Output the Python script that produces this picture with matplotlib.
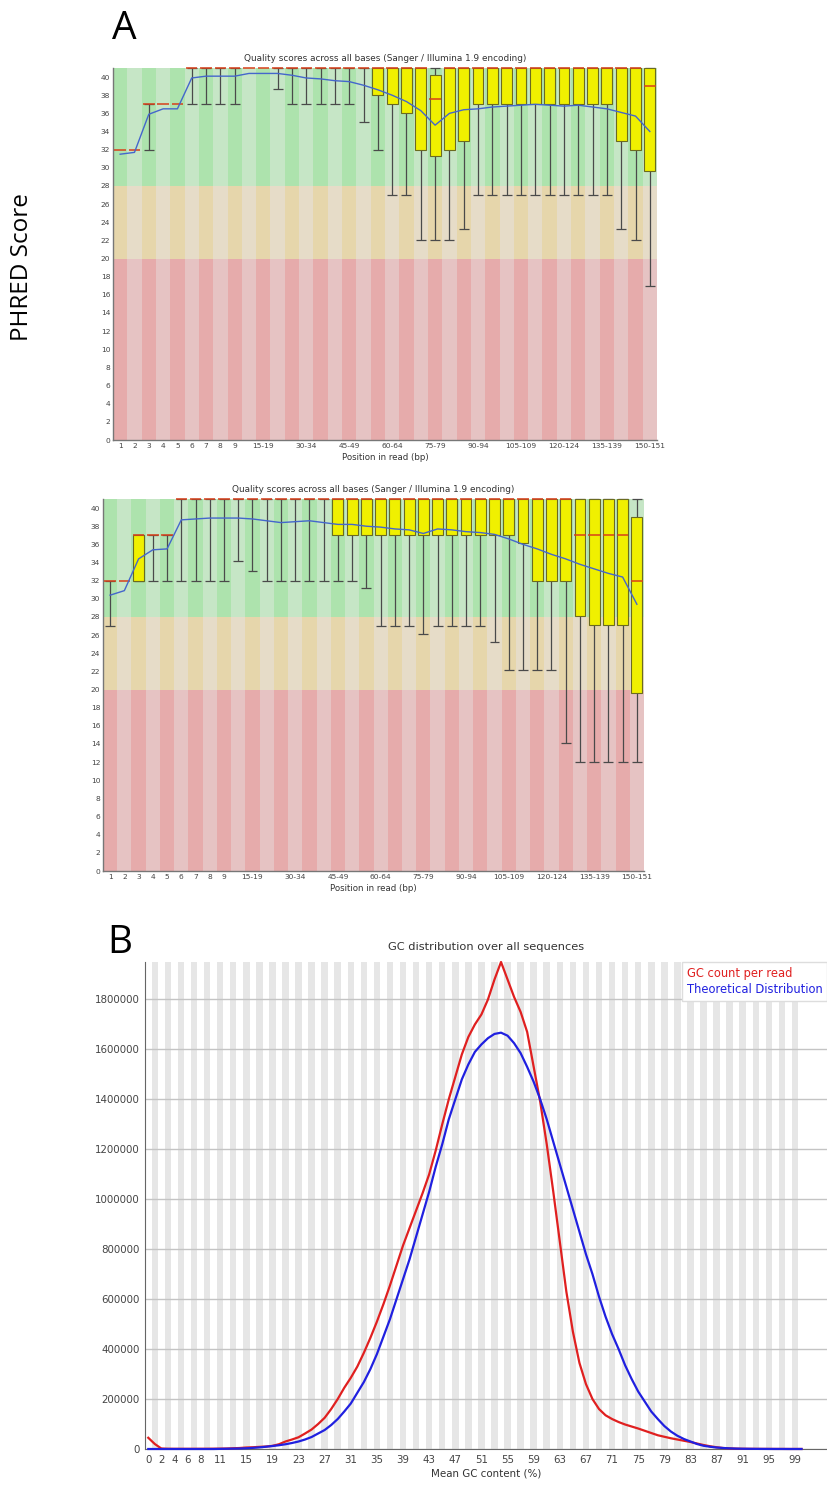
import matplotlib
matplotlib.use("Agg")
import matplotlib.pyplot as plt
from matplotlib.patches import Rectangle

W, H = 827, 1486

# base positions as grouped by FastQC
positions = ['1', '2', '3', '4', '5', '6', '7', '8', '9',
             '10-14', '15-19', '20-24', '25-29', '30-34', '35-39', '40-44',
             '45-49', '50-54', '55-59', '60-64', '65-69', '70-74', '75-79',
             '80-84', '85-89', '90-94', '95-99', '100-104', '105-109',
             '110-114', '115-119', '120-124', '125-129', '130-134',
             '135-139', '140-144', '145-149', '150-151']
shown_positions = ['1', '2', '3', '4', '5', '6', '7', '8', '9', '15-19',
                   '30-34', '45-49', '60-64', '75-79', '90-94', '105-109',
                   '120-124', '135-139', '150-151']

# read 1 per-position quality
r1_mean = [31.5, 31.7, 35.9, 36.5, 36.5, 39.9, 40.1, 40.1, 40.1, 40.4,
           40.4, 40.4, 40.2, 39.9, 39.8, 39.6, 39.5, 39.1, 38.6, 38.0,
           37.3, 36.3, 34.7, 36.0, 36.4, 36.5, 36.7, 36.8, 36.9, 37.0,
           36.9, 36.8, 36.9, 36.7, 36.5, 36.1, 35.7, 34.0]
r1_median = [32, 32, 37, 37, 37, 41, 41, 41, 41, 41,
             41, 41, 41, 41, 41, 41, 41, 41, 41, 41,
             41, 41, 37.6, 41, 41, 41, 41, 41, 41, 41,
             41, 41, 41, 41, 41, 41, 41, 39]
r1_q1 = [32, 32, 37, 37, 37, 41, 41, 41, 41, 41,
         41, 41, 41, 41, 41, 41, 41, 41, 38, 37,
         36, 32, 31.3, 32, 33, 37, 37, 37, 37, 37,
         37, 37, 37, 37, 37, 33, 32, 29.7]
r1_q3 = [32, 32, 37, 37, 37, 41, 41, 41, 41, 41,
         41, 41, 41, 41, 41, 41, 41, 41, 41, 41,
         41, 41, 40.2, 41, 41, 41, 41, 41, 41, 41,
         41, 41, 41, 41, 41, 41, 41, 41]
r1_p10 = [32, 32, 32, 37, 37, 37, 37, 37, 37, 41,
          41, 38.7, 37, 37, 37, 37, 37, 35, 32, 27,
          27, 22, 22, 22, 23.3, 27, 27, 27, 27, 27,
          27, 27, 27, 27, 27, 23.3, 22, 17]
r1_p90 = [32, 32, 37, 37, 37, 41, 41, 41, 41, 41,
          41, 41, 41, 41, 41, 41, 41, 41, 41, 41,
          41, 41, 41, 41, 41, 41, 41, 41, 41, 41,
          41, 41, 41, 41, 41, 41, 41, 41]

# read 2 per-position quality
r2_mean = [30.4, 30.9, 34.4, 35.4, 35.5, 38.7, 38.8, 38.9, 38.9, 38.9,
           38.8, 38.6, 38.4, 38.5, 38.6, 38.4, 38.2, 38.2, 38.0, 37.9,
           37.7, 37.6, 37.2, 37.7, 37.6, 37.4, 37.3, 37.1, 36.6, 36.0,
           35.5, 34.9, 34.4, 33.8, 33.3, 32.8, 32.4, 29.4]
r2_median = [32, 32, 37, 37, 37, 41, 41, 41, 41, 41,
             41, 41, 41, 41, 41, 41, 41, 41, 41, 41,
             41, 41, 41, 41, 41, 41, 41, 41, 41, 41,
             41, 41, 41, 37, 37, 37, 37, 32]
r2_q1 = [32, 32, 32, 37, 37, 41, 41, 41, 41, 41,
         41, 41, 41, 41, 41, 41, 37, 37, 37, 37,
         37, 37, 37, 37, 37, 37, 37, 37, 37, 36.1,
         32, 32, 32, 28.1, 27.1, 27.1, 27.1, 19.6]
r2_q3 = [32, 32, 37, 37, 37, 41, 41, 41, 41, 41,
         41, 41, 41, 41, 41, 41, 41, 41, 41, 41,
         41, 41, 41, 41, 41, 41, 41, 41, 41, 41,
         41, 41, 41, 41, 41, 41, 41, 39]
r2_p10 = [27, 32, 32, 32, 32, 32, 32, 32, 32, 34.2,
          33.1, 32, 32, 32, 32, 32, 32, 32, 31.2, 27,
          27, 27, 26.1, 27, 27, 27, 27, 25.2, 22.2, 22.2,
          22.2, 22.2, 14.1, 12, 12, 12, 12, 12]
r2_p90 = [32, 32, 37, 37, 37, 41, 41, 41, 41, 41,
          41, 41, 41, 41, 41, 41, 41, 41, 41, 41,
          41, 41, 41, 41, 41, 41, 41, 41, 41, 41,
          41, 41, 41, 41, 41, 41, 41, 41]

# GC content distribution (0..100 %)
gc_percent = list(range(101))
gc_count = [45000, 20000, 2000, 1000, 800, 800, 800, 800, 900, 1000,
            1200, 1500, 2000, 3000, 4000, 6000, 7000, 8500, 10000, 12500,
            19000, 30000, 38000, 47000, 62000, 78000, 100000, 125000, 160000, 200000,
            245000, 285000, 330000, 385000, 445000, 510000, 580000, 655000, 735000, 815000,
            885000, 955000, 1025000, 1100000, 1195000, 1300000, 1400000, 1490000, 1580000, 1650000,
            1700000, 1740000, 1800000, 1880000, 1950000, 1880000, 1810000, 1750000, 1670000, 1530000,
            1390000, 1220000, 1030000, 830000, 630000, 470000, 345000, 260000, 200000, 160000,
            135000, 120000, 108000, 98000, 90000, 82000, 73000, 64000, 55000, 49000,
            43000, 38000, 33000, 28000, 22000, 16000, 11000, 7000, 4000, 2500,
            1500, 1000, 800, 600, 500, 400, 300, 300, 200, 200,
            200]
gc_theory = [0, 0, 0, 0, 0, 0, 0, 0, 0, 0,
             0, 500, 1000, 1500, 2000, 3000, 4500, 6500, 9000, 12000,
             15000, 19000, 24000, 30000, 38000, 48000, 62000, 76000, 96000, 120000,
             150000, 182000, 225000, 268000, 320000, 380000, 450000, 520000, 600000, 680000,
             760000, 850000, 940000, 1030000, 1130000, 1220000, 1320000, 1400000, 1480000, 1540000,
             1590000, 1620000, 1645000, 1662000, 1667000, 1655000, 1625000, 1585000, 1530000, 1470000,
             1400000, 1320000, 1230000, 1140000, 1050000, 960000, 870000, 780000, 700000, 610000,
             530000, 460000, 400000, 335000, 280000, 230000, 190000, 150000, 120000, 92000,
             70000, 53000, 40000, 30000, 20000, 13000, 9000, 6000, 4000, 2500,
             1500, 1000, 700, 500, 300, 200, 100, 100, 0, 0,
             0]
gc_ticks = [0, 2, 4, 6, 8, 11, 15, 19, 23, 27, 31, 35, 39, 43, 47, 51, 55,
            59, 63, 67, 71, 75, 79, 83, 87, 91, 95, 99]
gc_yticks = [0, 200000, 400000, 600000, 800000, 1000000, 1200000, 1400000,
             1600000, 1800000]

QUAL_TITLE = 'Quality scores across all bases (Sanger / Illumina 1.9 encoding)'

# background bands: (low, high, dark stripe, light stripe)
zones = [(0, 20, '#e6abab', '#e6c3c3'),
         (20, 28, '#e6d6ab', '#e6dcc8'),
         (28, 41, '#ade3ad', '#c6e6c6')]


def px_axes(left, top, right, bottom):
    return fig.add_axes([left / W, 1 - bottom / H, (right - left) / W, (bottom - top) / H])


def quality_panel(ax, mean, median, q1, q3, p10, p90):
    n = len(positions)
    for i in range(n):
        for lo, hi, dark, light in zones:
            ax.add_patch(Rectangle((i - 0.5, lo), 1, hi - lo, zorder=0, lw=0,
                                   facecolor=dark if i % 2 == 0 else light))
    for i in range(n):
        if p90[i] > p10[i]:
            ax.vlines(i, p10[i], p90[i], color='#4a4a4a', lw=0.9, zorder=2)
            ax.hlines([p10[i], p90[i]], i - 0.35, i + 0.35, color='#4a4a4a',
                      lw=0.9, zorder=2, clip_on=False)
        if q3[i] > q1[i]:
            ax.add_patch(Rectangle((i - 0.38, q1[i]), 0.76, q3[i] - q1[i],
                                   facecolor='#f0f000', edgecolor='#6b6b20',
                                   lw=0.8, zorder=3, clip_on=False))
        ax.hlines(median[i], i - 0.4, i + 0.4, color='#d8401a', lw=1.1,
                  zorder=4, clip_on=False)
    ax.plot(range(n), mean, color='#4466cc', lw=1.0, zorder=5)

    ax.set_xlim(-0.5, n - 0.5)
    ax.set_ylim(0, 41)
    ax.set_xticks([positions.index(p) for p in shown_positions])
    ax.set_xticklabels(shown_positions)
    ax.set_yticks(range(0, 41, 2))
    ax.tick_params(length=0, labelsize=5.4, pad=2, colors='#444444')
    ax.set_xlabel('Position in read (bp)', fontsize=6.2, labelpad=3, color='#333333')
    ax.set_title(QUAL_TITLE, fontsize=6.4, pad=5, color='#333333')
    for side in ('top', 'right'):
        ax.spines[side].set_visible(False)
    for side in ('left', 'bottom'):
        ax.spines[side].set_color('#777777')
        ax.spines[side].set_linewidth(1.0)


fig = plt.figure(figsize=(W / 100, H / 100), dpi=100)

ax1 = px_axes(113, 68, 657, 440)
quality_panel(ax1, r1_mean, r1_median, r1_q1, r1_q3, r1_p10, r1_p90)

ax2 = px_axes(103, 499, 644, 871)
quality_panel(ax2, r2_mean, r2_median, r2_q1, r2_q3, r2_p10, r2_p90)

# GC content panel
ax3 = px_axes(145, 962, 827, 1449)
for i in gc_percent:
    if i % 2 == 1:
        ax3.axvspan(i - 0.5, i + 0.5, facecolor='#e6e6e6', lw=0, zorder=0)
for v in gc_yticks:
    ax3.axhline(v, color='#c4c4c4', lw=1.0, zorder=1)
ax3.plot(gc_percent, gc_count, color='#e02020', lw=1.6, zorder=3,
         label='GC count per read', clip_on=False)
ax3.plot(gc_percent, gc_theory, color='#2020e0', lw=1.6, zorder=3,
         label='Theoretical Distribution', clip_on=False)
ax3.set_xlim(-0.5, 103.9)
ax3.set_ylim(0, max(gc_count))
ax3.set_xticks(gc_ticks)
ax3.set_yticks(gc_yticks)
ax3.set_yticklabels([str(v) for v in gc_yticks])
ax3.tick_params(length=0, labelsize=7.4, pad=4, colors='#444444')
ax3.set_xlabel('Mean GC content (%)', fontsize=7.4, labelpad=3, color='#333333')
ax3.set_title('GC distribution over all sequences', fontsize=8.2, pad=9,
              color='#333333')
for side in ('top', 'right'):
    ax3.spines[side].set_visible(False)
for side in ('left', 'bottom'):
    ax3.spines[side].set_color('#666666')
leg = ax3.legend(loc='upper right', bbox_to_anchor=(1.0, 1.0), borderaxespad=0,
                 handlelength=0, handletextpad=0, fontsize=8.3, fancybox=False,
                 framealpha=1, edgecolor='#dddddd', borderpad=0.4, labelspacing=0.3)
for txt, c in zip(leg.get_texts(), ['#e02020', '#2020e0']):
    txt.set_color(c)
for h in leg.legend_handles:
    h.set_visible(False)

fig.text(124 / W, 1 - 29 / H, 'A', fontsize=28, ha='center', va='center',
         family='Open Sans')
fig.text(120 / W, 1 - 943 / H, 'B', fontsize=28, ha='center', va='center',
         family='Open Sans')
fig.text(22 / W, 1 - 267 / H, 'PHRED Score', fontsize=17.5, rotation=90,
         ha='center', va='center', family='Open Sans')

fig.savefig('out.png', dpi=100)
